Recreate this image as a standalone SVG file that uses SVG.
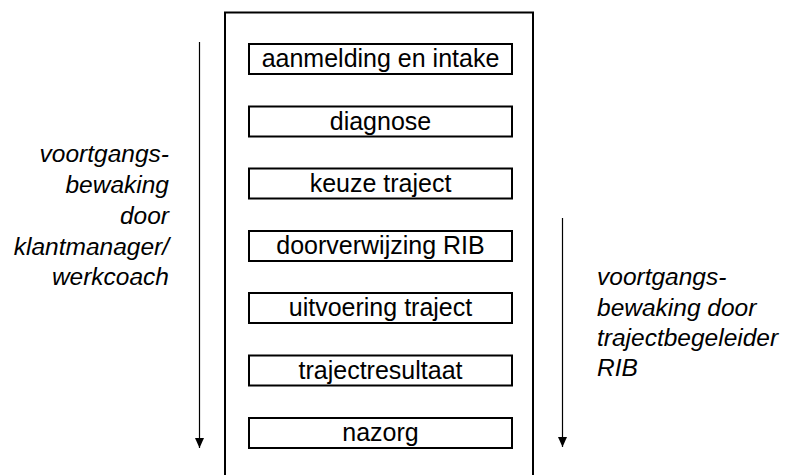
<svg xmlns="http://www.w3.org/2000/svg" width="785" height="475" viewBox="0 0 785 475">
<style>
.box{fill:#fff;stroke:#000;stroke-width:2}
.lbl{font-family:"Liberation Sans",Arial,sans-serif;font-size:25px;fill:#000;text-anchor:middle}
.side{font-family:"Liberation Sans",Arial,sans-serif;font-size:24.5px;font-style:italic;fill:#000}
.arr{stroke:#000;stroke-width:1.2;fill:none}
</style>
<defs>
<marker id="ah" markerUnits="userSpaceOnUse" markerWidth="10" markerHeight="10" viewBox="0 0 10 10" refX="10" refY="5" orient="auto">
<path d="M0,0.5 L10,5 L0,9.5 Z" fill="#000"/>
</marker>
</defs>
<rect width="785" height="475" fill="#fff"/>
<g id="container">
<path d="M225,476 V12.5 H533 V476" fill="none" stroke="#000" stroke-width="2"/>
</g>
<g id="n1"><rect class="box" x="249" y="44" width="263" height="30"/><text class="lbl" x="380.5" y="67">aanmelding en intake</text></g>
<g id="n2"><rect class="box" x="249" y="106.5" width="263" height="30"/><text class="lbl" x="380.5" y="129.5">diagnose</text></g>
<g id="n3"><rect class="box" x="249" y="168.5" width="263" height="30"/><text class="lbl" x="380.5" y="191.5">keuze traject</text></g>
<g id="n4"><rect class="box" x="249" y="231" width="263" height="30"/><text class="lbl" x="380.5" y="254">doorverwijzing RIB</text></g>
<g id="n5"><rect class="box" x="249" y="293" width="263" height="30"/><text class="lbl" x="380.5" y="316">uitvoering traject</text></g>
<g id="n6"><rect class="box" x="249" y="355.5" width="263" height="30"/><text class="lbl" x="380.5" y="378.5">trajectresultaat</text></g>
<g id="n7"><rect class="box" x="249" y="418" width="263" height="30"/><text class="lbl" x="380.5" y="441">nazorg</text></g>
<g id="connectors">
<line class="arr" x1="199.5" y1="42" x2="199.5" y2="448" marker-end="url(#ah)"/>
<line class="arr" x1="562.5" y1="218" x2="562.5" y2="447" marker-end="url(#ah)"/>
</g>
<g id="label-left">
<text class="side" text-anchor="end" x="169" y="162">voortgangs-</text>
<text class="side" text-anchor="end" x="169" y="193">bewaking</text>
<text class="side" text-anchor="end" x="169" y="223.5">door</text>
<text class="side" text-anchor="end" x="169" y="254.5">klantmanager/</text>
<text class="side" text-anchor="end" x="169" y="285">werkcoach</text>
</g>
<g id="label-right">
<text class="side" x="597" y="285">voortgangs-</text>
<text class="side" x="597" y="315.5">bewaking door</text>
<text class="side" x="597" y="345.5">trajectbegeleider</text>
<text class="side" x="597" y="376">RIB</text>
</g>
</svg>
